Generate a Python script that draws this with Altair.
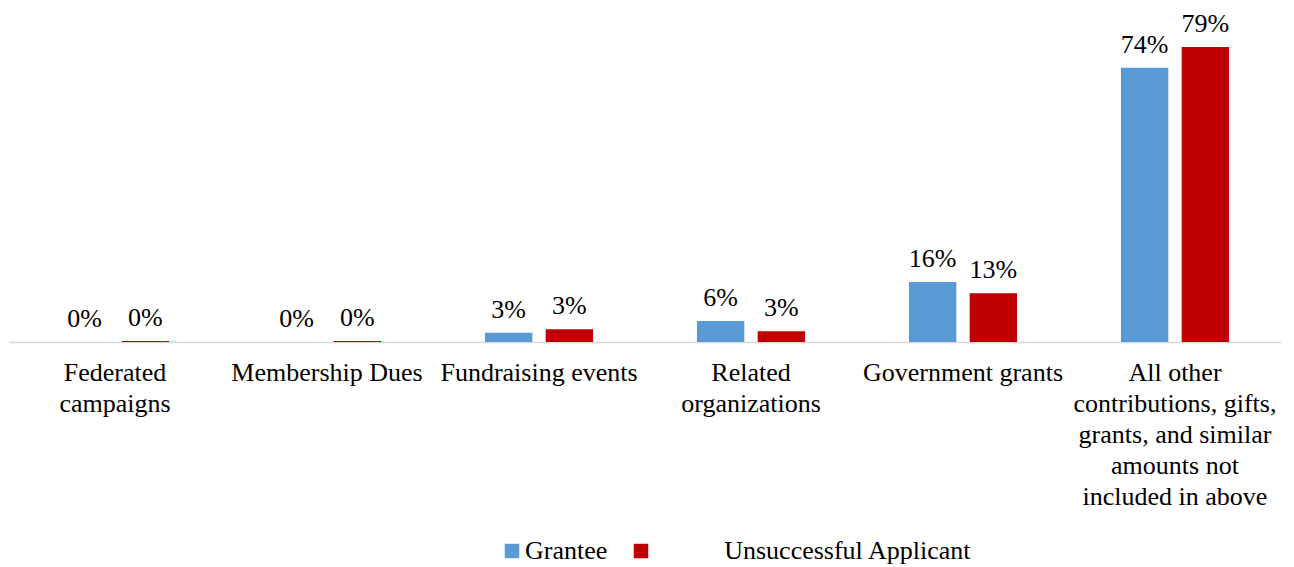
import altair as alt
import pandas as pd

categories = [
    "Federated|campaigns",
    "Membership Dues",
    "Fundraising events",
    "Related|organizations",
    "Government grants",
    "All other|contributions, gifts,|grants, and similar|amounts not|included in above",
]
grantee = [0.0, 0.0, 2.5, 5.6, 16.1, 73.5]
unsuccessful = [0.3, 0.3, 3.4, 2.9, 13.1, 79.1]
series = ["Grantee", "Unsuccessful Applicant"]

rows = []
for c, g, u in zip(categories, grantee, unsuccessful):
    rows.append({"cat": c, "series": series[0], "value": g})
    rows.append({"cat": c, "series": series[1], "value": u})
df = pd.DataFrame(rows)

FONT = "Liberation Serif"
FS = 26

x = alt.X("cat:N", sort=categories, title=None,
          scale=alt.Scale(paddingInner=0.49, paddingOuter=0.245),
          axis=alt.Axis(labelAngle=0, labelExpr="split(datum.label, '|')",
                        labelFont=FONT, labelFontSize=FS, labelColor="#000000",
                        labelLineHeight=31, labelPadding=17, ticks=False,
                        domainColor="#D9D9D9", domainWidth=1.5, labelLimit=300))
y = alt.Y("value:Q", title=None, scale=alt.Scale(domain=[0, 89]), axis=None)
xo = alt.XOffset("series:N", sort=series, scale=alt.Scale(paddingInner=0.22, paddingOuter=0))

gap = "\u200b\u2003\u2003\u2002\u2009"
color = alt.Color("series:N", sort=series, title=None,
                  scale=alt.Scale(domain=series, range=["#5B9BD5", "#C00000"]),
                  legend=alt.Legend(orient="none", legendX=490, legendY=528,
                                    direction="horizontal", symbolType="square",
                                    symbolSize=210, symbolStrokeWidth=0,
                                    labelFont=FONT, labelFontSize=FS, labelColor="#000000",
                                    columnPadding=20, padding=0, labelOffset=0,
                                    labelLimit=500,
                                    labelExpr="datum.value == 'Unsuccessful Applicant' ? '" + gap + "' + datum.label : datum.label"))

bars = alt.Chart(df).mark_bar().encode(x=x, y=y, xOffset=xo, color=color)
labels = alt.Chart(df).mark_text(baseline="alphabetic", dy=-15, font=FONT, fontSize=FS,
                                 color="#000000").encode(
    x=x, y=y, xOffset=xo,
    text=alt.Text("label:N"),
).transform_calculate(label="format(round(datum.value), 'd') + '%'")

chart = (bars + labels).properties(
    width=1272, height=332,
    padding={"left": 1, "top": 2, "right": 0, "bottom": 0},
).configure_view(stroke=None)

chart.save("out.html", embed_options={"renderer": "svg", "actions": False})
